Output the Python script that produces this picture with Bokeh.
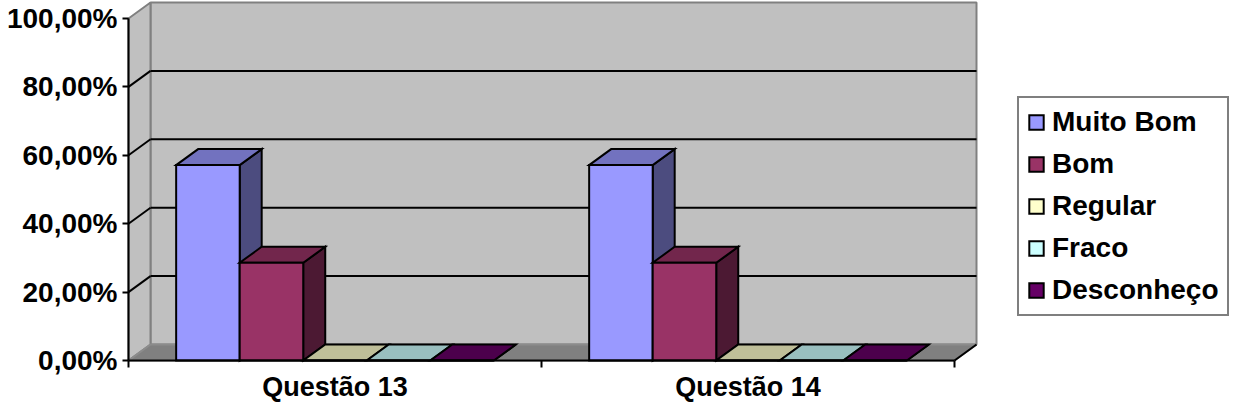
from bokeh.plotting import figure
from bokeh.models import Range1d, FixedTicker, Legend, LegendItem
from bokeh.embed import file_html
from bokeh.resources import INLINE

# ---------------- data ----------------
categories = ["Questão 13", "Questão 14"]
series_names = ["Muito Bom", "Bom", "Regular", "Fraco", "Desconheço"]
muito_bom = [57.14, 57.14]
bom = [28.57, 28.57]
regular = [0.0, 0.0]
fraco = [0.0, 0.0]
desconheco = [0.0, 0.0]
series_values = [muito_bom, bom, regular, fraco, desconheco]
series_colors = ["#9999FF", "#993366", "#FFFFCC", "#CCFFFF", "#660066"]
y_ticks = [0, 20, 40, 60, 80, 100]
y_tick_labels = ["0,00%", "20,00%", "40,00%", "60,00%", "80,00%", "100,00%"]

# ---------------- layout constants (canvas pixels) ----------------
W, H = 1229, 403
AX_X = 128      # canvas x of the front value axis
AX_Y = 360      # canvas y of 0 %
PX_X = 413.0    # px per category
PX_Y = 3.42     # px per percent
DEPTH_X, DEPTH_Y = 22, 16
FONT = "Liberation Sans"

ncat = len(categories)
nser = len(series_names)
DX = DEPTH_X / PX_X
DY = DEPTH_Y / PX_Y
YMAX = y_ticks[-1]

x_range = Range1d((0 - AX_X) / PX_X, (W - AX_X) / PX_X)
y_range = Range1d((AX_Y - H) / PX_Y, AX_Y / PX_Y)

p = figure(width=W, height=H, x_range=x_range, y_range=y_range,
           output_backend="svg", toolbar_location=None, min_border=0,
           background_fill_color="white", border_fill_color="white")
p.outline_line_color = None
p.xgrid.visible = False
p.ygrid.visible = False


def shade(hexcol, f):
    h = hexcol.lstrip("#")
    r, g, b = (int(h[i:i + 2], 16) for i in (0, 2, 4))
    return "#%02X%02X%02X" % (int(r * f), int(g * f), int(b * f))


# ---------------- walls and floor ----------------
p.quad(left=[DX], right=[ncat + DX], bottom=[DY], top=[YMAX + DY],
       fill_color="#C0C0C0", line_color="#808080", line_width=2)
p.patch([0, DX, DX, 0], [0, DY, YMAX + DY, YMAX],
        fill_color="#C0C0C0", line_color="#808080", line_width=2)
p.patch([0, ncat, ncat + DX, DX], [0, 0, DY, DY],
        fill_color="#808080", line_color="#8C8C8C", line_width=2)
p.segment(x0=[ncat], y0=[0], x1=[ncat + DX], y1=[DY], line_color="black", line_width=2)

grid_vals = y_ticks[1:-1]
p.segment(x0=[DX] * len(grid_vals), y0=[v + DY for v in grid_vals],
          x1=[ncat + DX] * len(grid_vals), y1=[v + DY for v in grid_vals],
          line_color="black", line_width=2)
p.segment(x0=[0] * len(grid_vals), y0=grid_vals,
          x1=[DX] * len(grid_vals), y1=[v + DY for v in grid_vals],
          line_color="black", line_width=2)

# ---------------- 3-D bars ----------------
BW = 1.0 / (nser + 1.5)
legend_items = []
for s, (name, vals, col) in enumerate(zip(series_names, series_values, series_colors)):
    lefts = [c + 0.75 * BW + s * BW for c in range(ncat)]
    rights = [l + BW for l in lefts]
    side_xs = [[r, r + DX, r + DX, r] for r in rights]
    side_ys = [[0, DY, h + DY, h] for h in vals]
    top_xs = [[l, r, r + DX, l + DX] for l, r in zip(lefts, rights)]
    top_ys = [[h, h, h + DY, h + DY] for h in vals]
    p.patches(side_xs, side_ys, fill_color=shade(col, 0.5), line_color="black",
              line_width=2, line_join="miter")
    p.patches(top_xs, top_ys, fill_color=shade(col, 0.75), line_color="black",
              line_width=2, line_join="miter")
    fr = p.quad(left=lefts, right=rights, bottom=[0] * ncat, top=vals,
                fill_color=col, line_color="black", line_width=2, line_join="miter")
    legend_items.append(LegendItem(label=name, renderers=[fr]))

# ---------------- axes ----------------
yax = p.yaxis[0]
yax.fixed_location = 0
yax.bounds = (0, YMAX)
yax.ticker = FixedTicker(ticks=y_ticks, minor_ticks=[])
yax.major_label_overrides = {v: lab for v, lab in zip(y_ticks, y_tick_labels)}
yax.axis_line_color = "black"
yax.axis_line_width = 2
yax.major_tick_line_color = "black"
yax.major_tick_line_width = 2
yax.major_tick_out = 6
yax.major_tick_in = 0
yax.minor_tick_line_color = None
yax.major_label_standoff = 5
yax.major_label_text_font = FONT
yax.major_label_text_font_style = "bold"
yax.major_label_text_font_size = "28px"
yax.major_label_text_color = "black"

xax = p.xaxis[0]
xax.fixed_location = 0
xax.bounds = (0, ncat)
centers = [c + 0.5 for c in range(ncat)]
xax.ticker = FixedTicker(ticks=centers, minor_ticks=list(range(ncat + 1)))
xax.major_label_overrides = {c: lab for c, lab in zip(centers, categories)}
xax.axis_line_color = "black"
xax.axis_line_width = 2
xax.major_tick_line_color = None
xax.major_tick_out = 0
xax.major_tick_in = 0
xax.minor_tick_line_color = "black"
xax.minor_tick_line_width = 2
xax.minor_tick_out = 7
xax.minor_tick_in = 0
xax.major_label_standoff = 4
xax.major_label_text_font = FONT
xax.major_label_text_font_style = "bold"
xax.major_label_text_font_size = "27px"
xax.major_label_text_color = "black"

# ---------------- legend ----------------
legend = Legend(items=legend_items, location=(1017, 87), orientation="vertical",
                label_text_font=FONT, label_text_font_style="bold",
                label_text_font_size="28px", label_text_color="black",
                glyph_width=18, glyph_height=18, label_standoff=7,
                padding=8, spacing=10, label_height=32, margin=0,
                background_fill_color="white", background_fill_alpha=1.0,
                border_line_color="black", border_line_width=2)
p.add_layout(legend)

open("out.html", "w").write(file_html(p, INLINE))
